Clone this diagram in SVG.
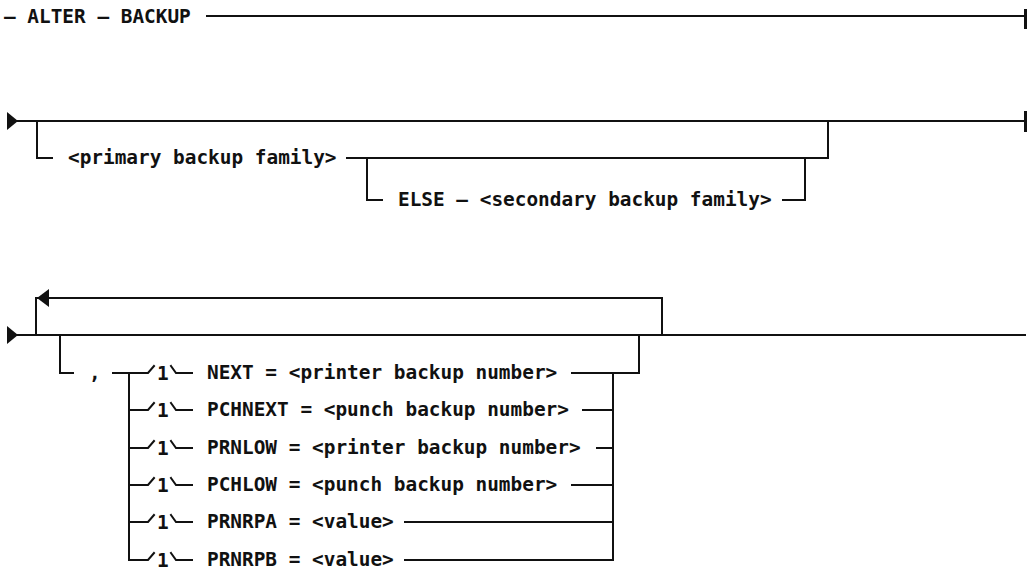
<svg xmlns="http://www.w3.org/2000/svg" width="1028" height="569" viewBox="0 0 1028 569">
  <style>
    .t { font-family: "DejaVu Sans Mono", "Liberation Mono", monospace; font-size: 19.4px; font-weight: bold; fill: #111; }
    .ln { fill: none; stroke: #111; stroke-width: 2; stroke-linecap: square; }
    .hd { fill: #111; stroke: none; }
  </style>
  <defs>
    <!-- footnote tag "/1\" drawn between a branch line and its keyword -->
    <g id="fn">
      <path class="ln" d="M0 0 H19 L25 -7 M42 -7 L47 0 H63"/>
      <text class="t" x="28" y="7">1</text>
    </g>
  </defs>

  <rect width="1028" height="569" fill="#fff"/>

  <!-- statement header -->
  <g id="header">
    <text class="t" x="4" y="23">– ALTER – BACKUP</text>
  </g>

  <!-- second line: backup families -->
  <g id="primary">
    <text class="t" x="68" y="164">&lt;primary backup family&gt;</text>
  </g>
  <g id="secondary">
    <text class="t" x="398" y="206">ELSE – &lt;secondary backup family&gt;</text>
  </g>

  <!-- third line: repeatable options -->
  <g id="comma"><text class="t" x="89" y="379">,</text></g>
  <g id="opt-next"><text class="t" x="207" y="379">NEXT = &lt;printer backup number&gt;</text></g>
  <g id="opt-pchnext"><text class="t" x="207" y="416">PCHNEXT = &lt;punch backup number&gt;</text></g>
  <g id="opt-prnlow"><text class="t" x="207" y="454">PRNLOW = &lt;printer backup number&gt;</text></g>
  <g id="opt-pchlow"><text class="t" x="207" y="491">PCHLOW = &lt;punch backup number&gt;</text></g>
  <g id="opt-prnrpa"><text class="t" x="207" y="528">PRNRPA = &lt;value&gt;</text></g>
  <g id="opt-prnrpb"><text class="t" x="207" y="566">PRNRPB = &lt;value&gt;</text></g>

  <g id="connectors">
    <!-- header line -->
    <path class="ln" d="M207 16 H1025"/>
    <rect class="hd" x="1024" y="9" width="3" height="20"/>

    <!-- second line -->
    <polygon class="hd" points="7,112 18,121 7,130"/>
    <path class="ln" d="M17 121 H1025"/>
    <rect class="hd" x="1024" y="111" width="3" height="21"/>
    <path class="ln" d="M37 121 V158 H52"/>
    <path class="ln" d="M347 158 H828 V121"/>
    <path class="ln" d="M367 158 V200 H382"/>
    <path class="ln" d="M783 200 H805 V158"/>

    <!-- third line with repeat loop -->
    <polygon class="hd" points="7,326 18,335 7,344"/>
    <path class="ln" d="M17 335 H1025"/>
    <path class="ln" d="M36 335 V298 H662 V335"/>
    <polygon class="hd" points="37,298 49,289 49,307"/>
    <path class="ln" d="M60 335 V373 H73"/>
    <path class="ln" d="M113 373 H129 V560"/>

    <!-- option branches -->
    <use href="#fn" x="129" y="373"/>
    <use href="#fn" x="129" y="410"/>
    <use href="#fn" x="129" y="448"/>
    <use href="#fn" x="129" y="485"/>
    <use href="#fn" x="129" y="522"/>
    <use href="#fn" x="129" y="560"/>

    <path class="ln" d="M572 373 H639 V335"/>
    <path class="ln" d="M613 373 V560"/>
    <path class="ln" d="M583 410 H613"/>
    <path class="ln" d="M597 448 H613"/>
    <path class="ln" d="M572 485 H613"/>
    <path class="ln" d="M405 522 H613"/>
    <path class="ln" d="M405 560 H613"/>
  </g>
</svg>
